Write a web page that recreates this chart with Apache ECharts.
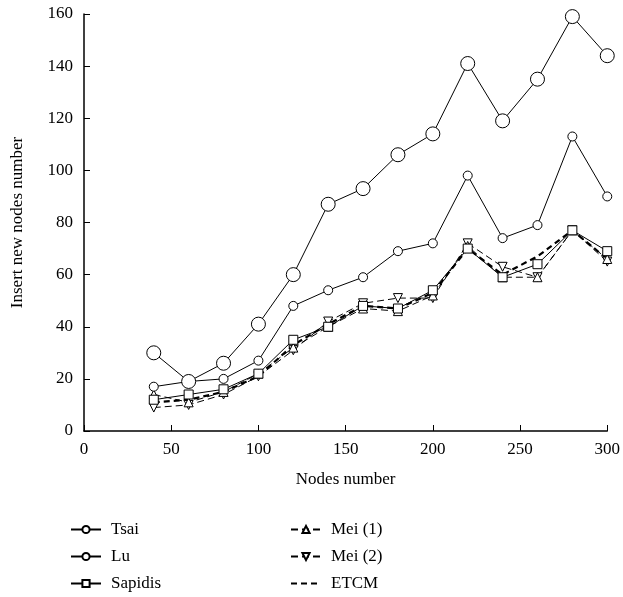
<!DOCTYPE html>
<html>
<head>
<meta charset="utf-8">
<script src="https://cdn.jsdelivr.net/npm/echarts@6/dist/echarts.min.js"></script>
<style>
  html, body { margin: 0; padding: 0; background: #fff; }
  #chart { width: 623px; height: 597px; }
</style>
</head>
<body>
<div id="chart"></div>
<script>
  // x values (nodes number)
  const nodes = [40, 60, 80, 100, 120, 140, 160, 180, 200, 220, 240, 260, 280, 300];

  const tsai    = [30, 19, 26, 41, 60, 87, 93, 106, 114, 141, 119, 135, 159, 144];
  const lu      = [17, 19, 20, 27, 48, 54, 59, 69, 72, 98, 74, 79, 113, 90];
  const sapidis = [12, 14, 16, 22, 35, 40, 48, 47, 54, 70, 59, 64, 77, 69];
  const mei1    = [14, 11, 15, 22, 32, 40, 47, 46, 52, 71, 59, 59, 77, 66];
  const mei2    = [9, 10, 14, 21, 31, 42, 49, 51, 51, 72, 63, 59, 77, 65];
  const etcm    = [11, 12, 15, 21, 33, 41, 48, 47, 53, 70, 60, 67, 77, 66];

  const font = 'Liberation Serif';

  function pairs(ys) {
    return nodes.map((x, i) => [x, ys[i]]);
  }

  function lineSeries(name, ys, symbol, size, dashed, rotate) {
    return {
      name: name,
      type: 'line',
      data: pairs(ys),
      symbol: symbol,
      symbolSize: size,
      symbolRotate: rotate || 0,
      lineStyle: { color: '#000', width: 1, type: dashed ? [7, 4] : 'solid' },
      itemStyle: { color: '#fff', borderColor: '#000', borderWidth: 1 },
      animation: false
    };
  }

  const legendCommon = {
    orient: 'vertical',
    top: 521,
    padding: 0,
    itemWidth: 30, itemHeight: 9, itemGap: 10,
    textStyle: { fontFamily: font, fontSize: 17, color: '#000', padding: [0, 0, 0, 5] }
  };

  const chart = echarts.init(document.getElementById('chart'));
  const option = {
    backgroundColor: '#fff',
    textStyle: { fontFamily: font },
    grid: { left: 84, right: 14, top: 14, bottom: 166 },
    xAxis: {
      type: 'value',
      min: 0, max: 300, interval: 50,
      name: 'Nodes number',
      nameLocation: 'middle',
      nameGap: 40,
      nameTextStyle: { fontFamily: font, fontSize: 17, color: '#000' },
      axisLine: { lineStyle: { color: '#000', width: 1.5 } },
      axisTick: { inside: true, length: 6, lineStyle: { color: '#000' } },
      axisLabel: { fontFamily: font, fontSize: 17, color: '#000', margin: 10 },
      splitLine: { show: false }
    },
    yAxis: {
      type: 'value',
      min: 0, max: 160, interval: 20,
      name: 'Insert new nodes number',
      nameLocation: 'middle',
      nameGap: 58,
      nameTextStyle: { fontFamily: font, fontSize: 17, color: '#000' },
      axisLine: { show: true, lineStyle: { color: '#000', width: 1.5 } },
      axisTick: { show: true, inside: true, length: 6, lineStyle: { color: '#000' } },
      axisLabel: { fontFamily: font, fontSize: 17, color: '#000', margin: 11 },
      splitLine: { show: false }
    },
    legend: [
      Object.assign({ data: ['Tsai', 'Lu', 'Sapidis'], left: 70 }, legendCommon),
      Object.assign({ data: ['Mei (1)', 'Mei (2)', 'ETCM'], left: 290 }, legendCommon)
    ],
    series: [
      lineSeries('ETCM', etcm, 'none', 0, true),
      lineSeries('Mei (2)', mei2, 'triangle', 9, true, 180),
      lineSeries('Mei (1)', mei1, 'triangle', 9, true),
      lineSeries('Sapidis', sapidis, 'rect', 9, false),
      lineSeries('Lu', lu, 'circle', 9, false),
      lineSeries('Tsai', tsai, 'circle', 14, false)
    ]
  };
  // ETCM is drawn thicker, with no markers
  option.series[0].lineStyle.width = 2.2;
  option.series[0].lineStyle.type = [6, 4];
  option.series[0].itemStyle = { color: 'rgba(0,0,0,0)', borderWidth: 0 };
  chart.setOption(option);
</script>
</body>
</html>
